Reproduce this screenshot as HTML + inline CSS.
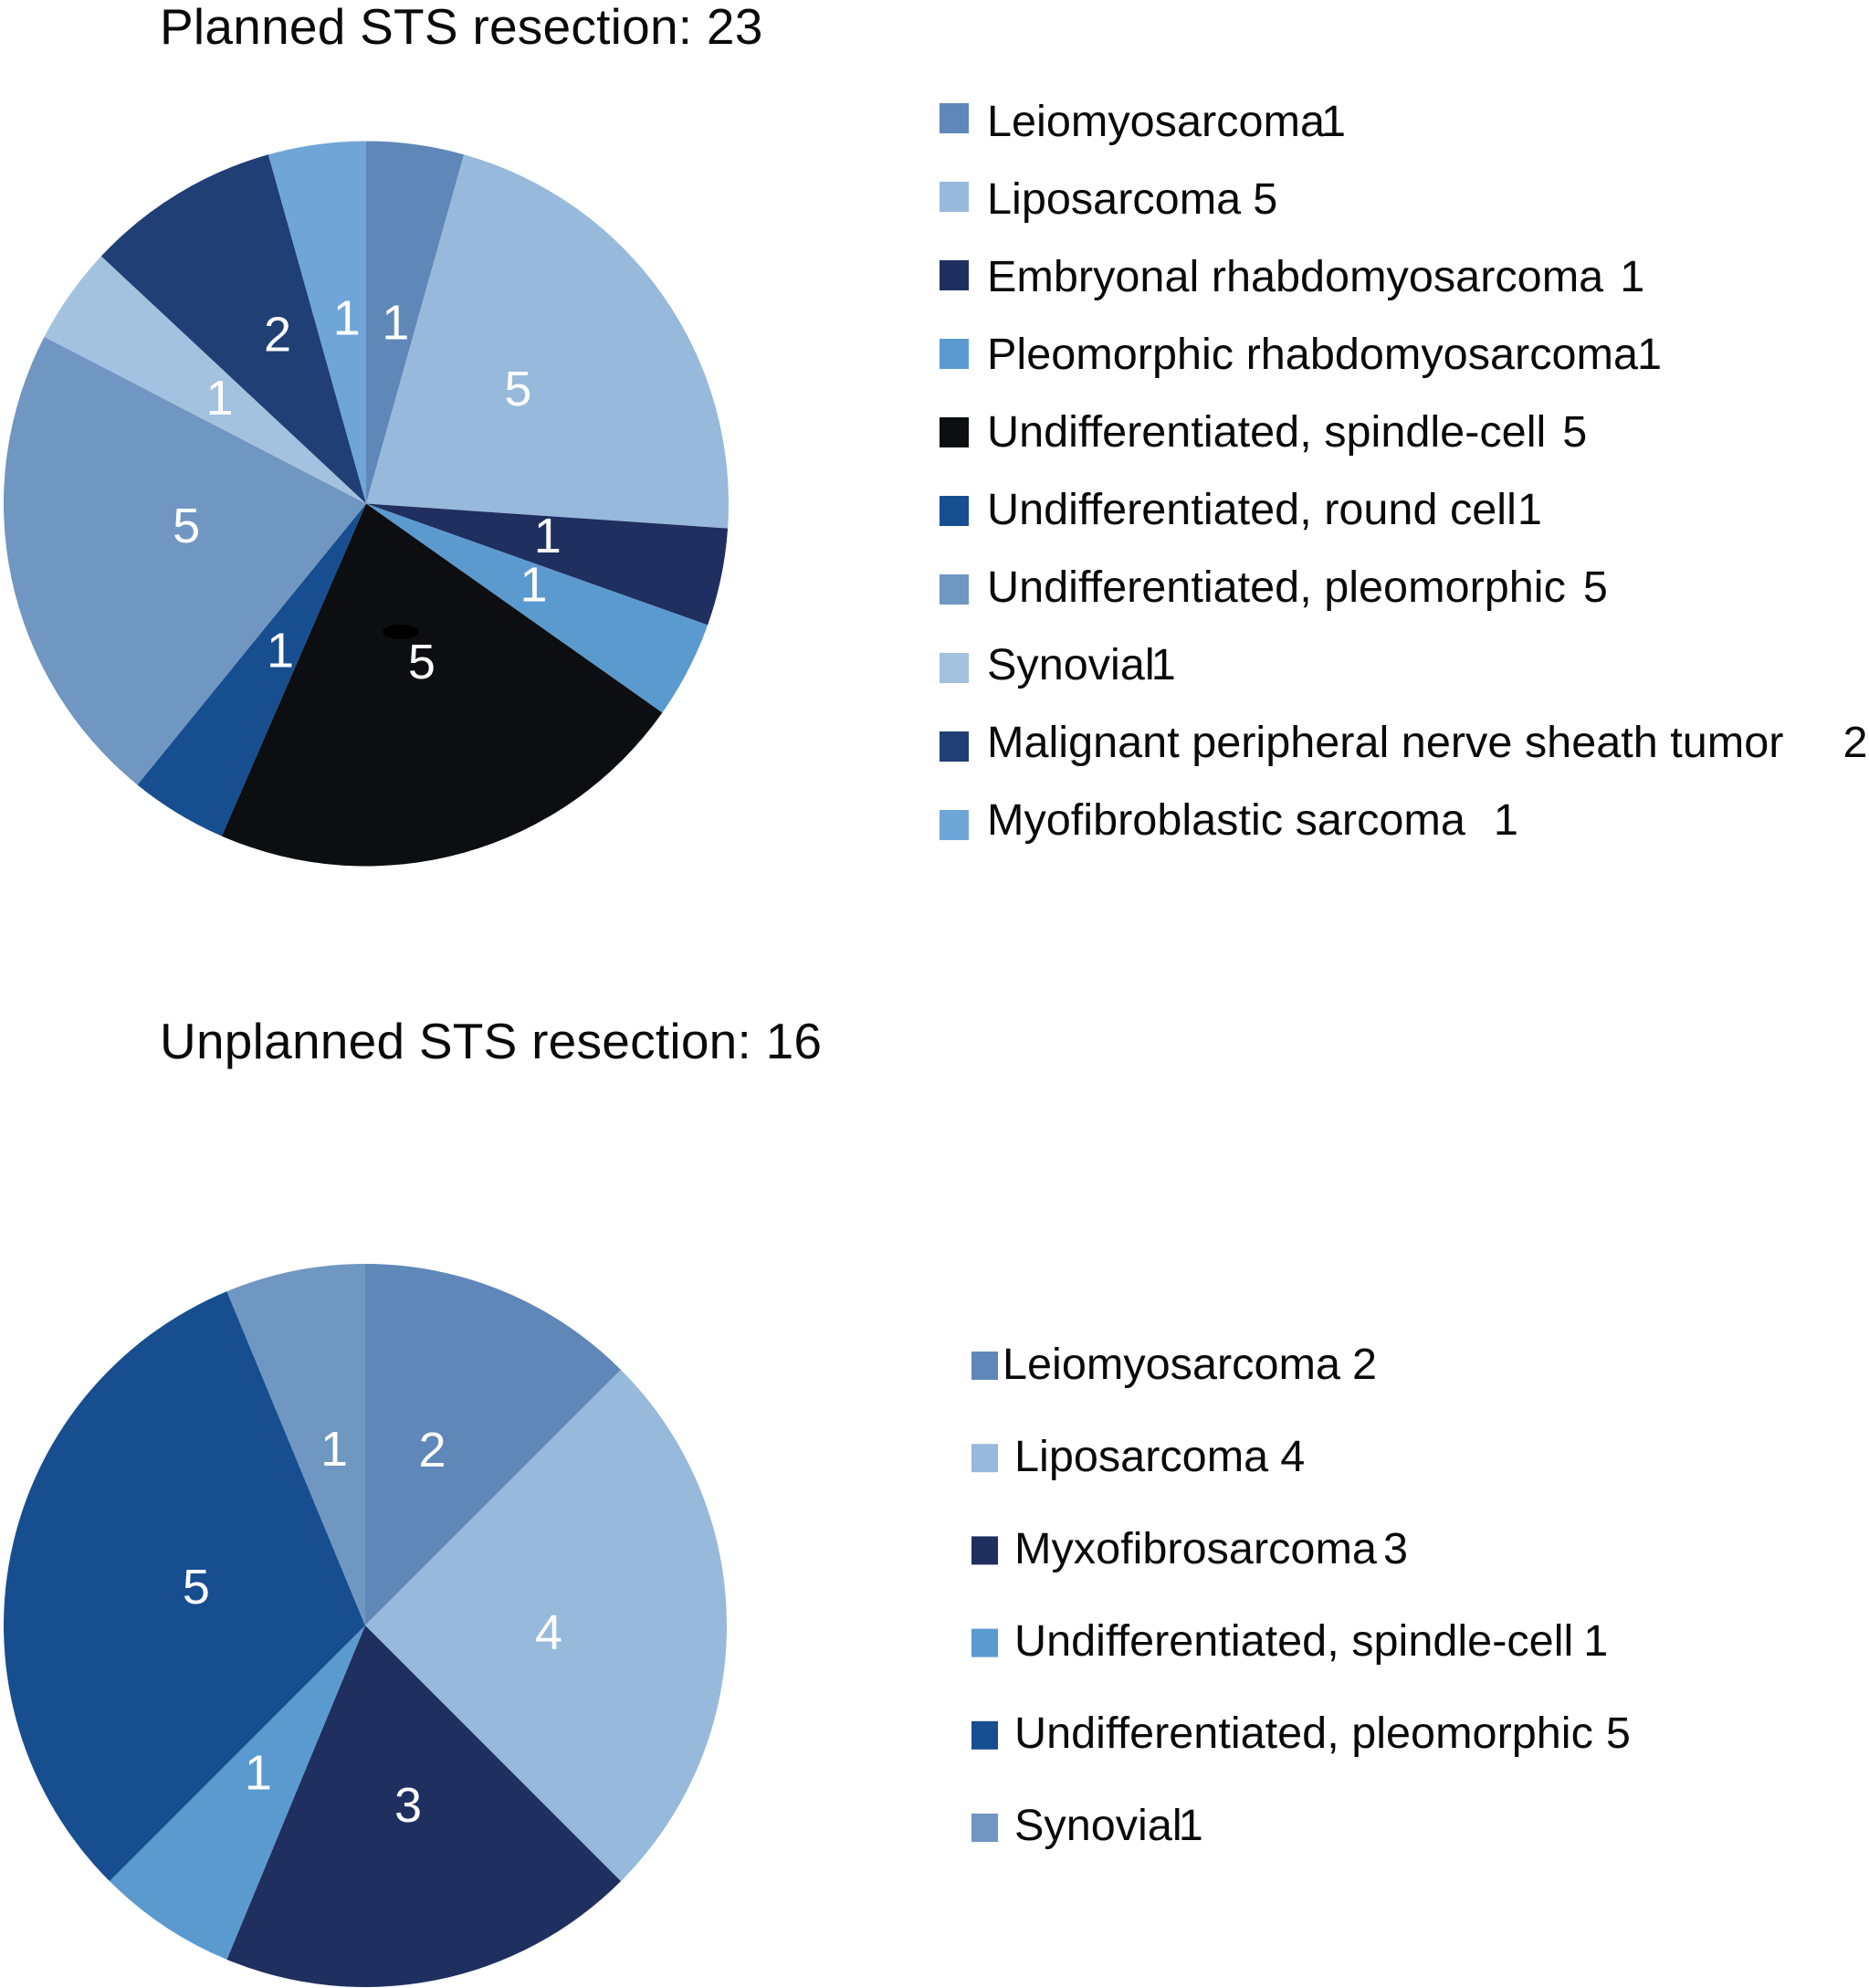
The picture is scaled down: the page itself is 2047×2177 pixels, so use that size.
<!DOCTYPE html>
<html lang="en">
<head>
<meta charset="utf-8">
<title>Planned and unplanned STS resection</title>
<style>
  html, body { margin: 0; padding: 0; background: #ffffff; }
  svg { display: block; font-family: "Liberation Sans", Arial, sans-serif; }
  .chart-title { font-size: 55px; letter-spacing: 0.25px; fill: #0a0a0a; }
  .legend-text { font-size: 48.6px; fill: #0a0a0a; }
  .slice-label { font-size: 54px; fill: #ffffff; text-anchor: middle; }
</style>
</head>
<body>
<svg id="chart" xmlns="http://www.w3.org/2000/svg" width="2047" height="2177" viewBox="0 0 2047 2177">
  <rect x="0" y="0" width="2047" height="2177" fill="#ffffff"/>
  <text class="chart-title" x="175" y="48">Planned STS resection: 23</text>
  <text class="chart-title" x="175" y="1159">Unplanned STS resection: 16</text>
  <g id="planned-pie"></g>
  <g id="planned-legend"></g>
  <g id="unplanned-pie"></g>
  <g id="unplanned-legend"></g>
</svg>
<script>
var plannedCategories = ["Leiomyosarcoma", "Liposarcoma", "Embryonal rhabdomyosarcoma", "Pleomorphic rhabdomyosarcoma", "Undifferentiated, spindle-cell", "Undifferentiated, round cell", "Undifferentiated, pleomorphic", "Synovial", "Malignant peripheral nerve sheath tumor", "Myofibroblastic sarcoma"];
var plannedValues = [1, 5, 1, 1, 5, 1, 5, 1, 2, 1];
var unplannedCategories = ["Leiomyosarcoma", "Liposarcoma", "Myxofibrosarcoma", "Undifferentiated, spindle-cell", "Undifferentiated, pleomorphic", "Synovial"];
var unplannedValues = [2, 4, 3, 1, 5, 1];

var SVG_NS = "http://www.w3.org/2000/svg";

function make(tag, parent, attrs) {
  var el = document.createElementNS(SVG_NS, tag);
  Object.keys(attrs).forEach(function (k) { el.setAttribute(k, attrs[k]); });
  parent.appendChild(el);
  return el;
}

function slug(s) {
  return s.toLowerCase().replace(/[^a-z0-9]+/g, "-").replace(/^-|-$/g, "");
}

function polar(cx, cy, r, deg) {
  var a = deg * Math.PI / 180;
  return [cx + r * Math.sin(a), cy - r * Math.cos(a)];
}

function drawPie(group, categories, values, opts) {
  var total = values.reduce(function (a, b) { return a + b; }, 0);
  var start = 0;
  values.forEach(function (v, i) {
    var sweep = v / total * 360;
    var p0 = polar(opts.cx, opts.cy, opts.r, start);
    var p1 = polar(opts.cx, opts.cy, opts.r, start + sweep);
    var large = sweep > 180 ? 1 : 0;
    var d = "M" + opts.cx + " " + opts.cy + " L" + p0[0] + " " + p0[1] +
      " A" + opts.r + " " + opts.r + " 0 " + large + " 1 " + p1[0] + " " + p1[1] + " Z";
    var path = make("path", group, { d: d, fill: opts.colors[i] });
    
    
    start += sweep;
  });
  start = 0;
  values.forEach(function (v, i) {
    var sweep = v / total * 360;
    var c = polar(opts.cx, opts.cy, opts.labelRadius, start + sweep / 2);
    var nudge = opts.labelNudges[i];
    var label = make("text", group, { x: c[0] + nudge[0], y: c[1] + nudge[1] + 19, "class": "slice-label" });
    label.textContent = String(v);
    
    
    start += sweep;
  });
}

function drawLegend(group, categories, values, opts) {
  categories.forEach(function (name, i) {
    var entry = make("g", group, {});
    
    
    var swatch = make("rect", entry, {
      x: opts.swatchX, y: opts.swatchTop + i * opts.swatchStep,
      width: opts.swatchW, height: opts.swatchH, fill: opts.colors[i]
    });
    
    
    var text = make("text", entry, { x: opts.textX[i], y: opts.textTop + i * opts.textStep, "class": "legend-text" });
    
    
    var nameSpan = make("tspan", text, {});
    nameSpan.textContent = name;
    var valueSpan = make("tspan", text, { dx: opts.valueGaps[i] });
    valueSpan.textContent = String(values[i]);
  });
}

var plannedColors = ["#5f87b8", "#97b9db", "#1f2f60", "#5b9acf", "#0c0e12", "#174e90", "#7096c2", "#a2c2df", "#1f3f75", "#6fa6d7"];
var unplannedColors = ["#5f87b8", "#97b9db", "#1f2f60", "#5b9acf", "#174e90", "#7096c2"];

drawPie(document.getElementById("planned-pie"), plannedCategories, plannedValues, {
  cx: 401, cy: 551.5, r: 397, labelRadius: 200, colors: plannedColors,
  labelNudges: [[5, -1], [3, -11], [3, -6], [6, -4], [7, -20], [10, -11], [-1, -17], [3, -1], [7, -15], [6, -6]]
});

var blob = make("ellipse", document.getElementById("planned-pie"), { cx: 439, cy: 692, rx: 20, ry: 8, fill: "#000000" });



drawPie(document.getElementById("unplanned-pie"), unplannedCategories, unplannedValues, {
  cx: 400, cy: 1780, r: 396, labelRadius: 200, colors: unplannedColors,
  labelNudges: [[-3, -8], [1, 7], [8, 0], [-6, -6], [11, -4], [5, 2]]
});

drawLegend(document.getElementById("planned-legend"), plannedCategories, plannedValues, {
  swatchTop: 113, swatchStep: 86, swatchX: 1029, swatchW: 32, swatchH: 33,
  textTop: 149, textStep: 85, colors: plannedColors,
  textX: [1081, 1081, 1081, 1081, 1081, 1081, 1081, 1081, 1081, 1081],
  valueGaps: [-4, 13, 18, -1, 18, 1, 19, -4, 65, 31]
});

drawLegend(document.getElementById("unplanned-legend"), unplannedCategories, unplannedValues, {
  swatchTop: 1480, swatchStep: 101.2, swatchX: 1064, swatchW: 29, swatchH: 31,
  textTop: 1510, textStep: 101, colors: unplannedColors,
  textX: [1098, 1111, 1111, 1111, 1111, 1111],
  valueGaps: [13, 13, 7, 11, 14, -4]
});
</script>
</body>
</html>
